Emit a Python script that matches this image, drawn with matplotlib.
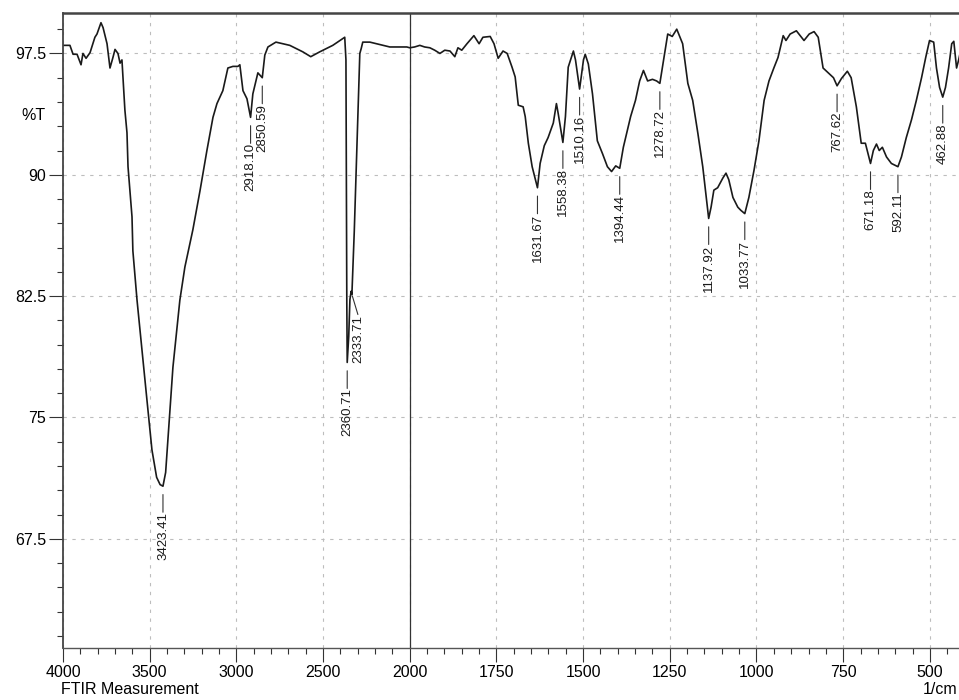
import numpy as np
import matplotlib
matplotlib.use("Agg")
import matplotlib.pyplot as plt
from matplotlib.ticker import FixedLocator, MultipleLocator

plt.rcParams['font.family'] = ['Liberation Sans', 'DejaVu Sans']

# espectro FTIR (numero de onda em 1/cm, %T)
wavenumber = [
    4000, 3960, 3942, 3919, 3896, 3885, 3867, 3844, 3816, 3804, 3781, 3769,
    3746, 3729, 3712, 3700, 3683, 3671, 3660, 3654, 3643, 3631, 3625, 3602,
    3597, 3573, 3545, 3516, 3487, 3460, 3440, 3423.41, 3408, 3390, 3366, 3326,
    3297, 3251, 3210, 3170, 3135, 3112, 3078, 3049, 3020, 2991, 2980, 2962,
    2939, 2918.10, 2905, 2876, 2850.59, 2836, 2818, 2772, 2692, 2617, 2571,
    2519, 2444, 2403, 2375, 2368, 2363, 2360.71, 2352, 2345, 2338, 2333.71,
    2320, 2300, 2288, 2280, 2271, 2230, 2173, 2115, 2058, 2017, 2000,
    1986, 1971, 1957, 1942, 1928, 1913, 1899, 1884, 1870, 1861, 1850, 1835,
    1815, 1800, 1789, 1768, 1757, 1745, 1731, 1719, 1705, 1696, 1687, 1673,
    1667, 1658, 1647, 1631.67, 1624, 1612, 1601, 1586, 1577, 1572, 1558.38,
    1551, 1543, 1528, 1522, 1510.16, 1499, 1494, 1485, 1473, 1459, 1444,
    1430, 1418, 1406, 1394.44, 1384, 1363, 1349, 1337, 1326, 1314, 1300,
    1288, 1278.72, 1268, 1256, 1243, 1230, 1213, 1198, 1184, 1169, 1155,
    1137.92, 1131, 1123, 1112, 1097, 1088, 1080, 1068, 1054, 1045, 1033.77,
    1022, 1007, 993, 978, 964, 950, 938, 923, 915, 903, 885, 863, 848, 834,
    822, 808, 793, 778, 767.62, 755, 738, 727, 712, 698, 686, 671.18, 663,
    654, 646, 637, 625, 611, 592.11, 582, 568, 553, 539, 524, 512, 501, 489,
    481, 472, 462.88, 455, 446, 437, 431, 423, 417, 411,
]
transmittance = [
    98.0, 98.0, 97.45, 97.45, 96.8, 97.5, 97.2, 97.55, 98.5, 98.7, 99.4, 99.1,
    98.1, 96.6, 97.25, 97.75, 97.5, 96.9, 97.1, 96.0, 94.0, 92.6, 90.5, 87.4,
    85.3, 82.25, 79.2, 76.1, 73.0, 71.3, 70.85, 70.75, 71.6, 74.4, 78.1, 82.25,
    84.3, 86.6, 89.0, 91.5, 93.55, 94.4, 95.2, 96.6, 96.7, 96.7, 96.8, 95.2,
    94.7, 93.55, 95.0, 96.3, 96.0, 97.4, 97.9, 98.2, 98.0, 97.6, 97.3,
    97.6, 98.0, 98.3, 98.5, 97.1, 82.0, 78.4, 80.0, 82.3, 82.8, 82.6,
    86.5, 93.5, 97.5, 97.8, 98.2, 98.2, 98.05, 97.9, 97.9, 97.9, 97.85,
    97.9, 98.0, 97.9, 97.85, 97.7, 97.5, 97.7, 97.65, 97.3, 97.85, 97.7, 98.1,
    98.6, 98.1, 98.5, 98.55, 98.1, 97.2, 97.65, 97.5, 96.65, 96.05, 94.3, 94.2,
    93.6, 91.95, 90.5, 89.2, 90.7, 91.8, 92.3, 93.2, 94.4, 93.8, 92.0,
    93.6, 96.65, 97.65, 97.1, 95.3, 97.1, 97.45, 96.85, 95.0, 92.1, 91.3,
    90.5, 90.2, 90.55, 90.4, 91.7, 93.6, 94.6, 95.8, 96.45, 95.8, 95.9,
    95.8, 95.65, 97.1, 98.7, 98.55, 99.0, 98.1, 95.65, 94.6, 92.55, 90.5,
    87.3, 88.0, 89.05, 89.2, 89.8, 90.1, 89.7, 88.6, 88.0, 87.8, 87.6,
    88.6, 90.3, 92.1, 94.6, 95.8, 96.6, 97.25, 98.6, 98.3, 98.7, 98.9, 98.3, 98.7, 98.85,
    98.5, 96.6, 96.3, 96.0, 95.5, 95.95, 96.4, 96.0, 94.2, 91.95, 91.95, 90.7, 91.5,
    91.9, 91.5, 91.7, 91.1, 90.7, 90.5, 91.1, 92.3, 93.4, 94.6, 96.0, 97.25, 98.3, 98.2,
    96.6, 95.4, 94.8, 95.4, 96.6, 98.1, 98.25, 96.6, 97.1, 97.7,
]

# picos marcados
peaks = [3423.41, 2918.10, 2850.59, 2360.71, 1631.67, 1558.38, 1510.16,
         1394.44, 1278.72, 1137.92, 1033.77, 767.62, 671.18, 592.11, 462.88]
shoulder = 2333.71

xticks_major = [4000, 3500, 3000, 2500, 2000, 1750, 1500, 1250, 1000, 750, 500]
yticks_major = [67.5, 75, 82.5, 90, 97.5]


# escala do eixo x: acima de 2000 comprimida pela metade
def fwd(w):
    w = np.asarray(w, dtype=float)
    return np.where(w > 2000, 2000 + (w - 2000) / 2.0, w)


def inv(p):
    p = np.asarray(p, dtype=float)
    return np.where(p > 2000, 2000 + 2.0 * (p - 2000), p)


fig = plt.figure(figsize=(9.59, 7.0), dpi=100)
ax = fig.add_axes([63 / 959, 52 / 700, (959 - 63) / 959, 635 / 700])

ax.set_xscale('function', functions=(fwd, inv))
ax.set_xlim(4000, 416)
ax.set_ylim(60.75, 100.0)

ax.xaxis.set_major_locator(FixedLocator(xticks_major))
minors = list(range(4000, 2000, -100)) + list(range(2000, 400, -50))
ax.xaxis.set_minor_locator(FixedLocator(minors))
ax.yaxis.set_major_locator(FixedLocator(yticks_major))
ax.yaxis.set_minor_locator(MultipleLocator(1.5))
ax.set_xticklabels([str(t) for t in xticks_major])
ax.set_yticklabels(['67.5', '75', '82.5', '90', '97.5'])

ax.tick_params(axis='both', which='major', length=10, width=0.8,
               labelsize=11.5, color='#333333')
ax.tick_params(axis='both', which='minor', length=4, width=0.8, color='#333333')
ax.tick_params(axis='x', pad=2)
ax.tick_params(axis='y', pad=2)

ax.spines['right'].set_visible(False)
ax.spines['top'].set_linewidth(1.8)
ax.spines['top'].set_color('#444444')
ax.spines['left'].set_linewidth(1.3)
ax.spines['left'].set_color('#444444')
ax.spines['bottom'].set_linewidth(1.0)
ax.spines['bottom'].set_color('#555555')

ax.grid(True, which='major', linestyle=(0, (3, 5)), color='#bdbdbd', linewidth=0.8)
ax.axvline(2000, color='#333333', linewidth=0.9)

ax.plot(wavenumber, transmittance, color='#1a1a1a', linewidth=1.2)

tr = dict(zip(wavenumber, transmittance))
leader = dict(arrowstyle='-', color='#333333', lw=0.8, patchA=None,
              relpos=(0.5, 1.0), shrinkA=0)
for p in peaks:
    ax.annotate('%.2f' % p, xy=(p, tr[p]), xytext=(0, -26),
                textcoords='offset pixels', rotation=90, ha='center', va='top',
                fontsize=9.5, color='#1a1a1a',
                arrowprops=dict(leader, shrinkB=6))
ax.annotate('%.2f' % shoulder, xy=(shoulder, tr[shoulder]), xytext=(6, -20),
            textcoords='offset pixels', rotation=90, ha='center', va='top',
            fontsize=9.5, color='#1a1a1a',
            arrowprops=dict(leader, shrinkB=1))

fig.text(33 / 959, 1 - 115 / 700, '%T', ha='center', va='center', fontsize=11.5)
fig.text(61 / 959, 1 - 689 / 700, 'FTIR Measurement', ha='left', va='center',
         fontsize=11.5)
fig.text(957 / 959, 1 - 689 / 700, '1/cm', ha='right', va='center', fontsize=11.5)

fig.savefig('out.png', dpi=100)
